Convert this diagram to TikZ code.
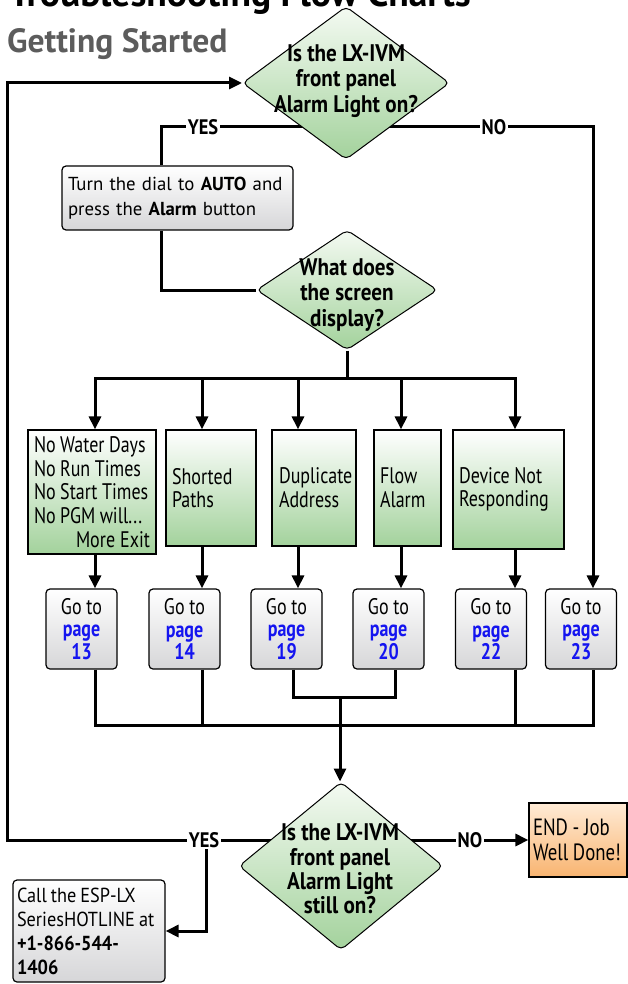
\documentclass[tikz,border=0pt]{standalone}
\usepackage{fontspec}
\setmainfont{PT Sans}
\newfontfamily\condf[FakeStretch=0.8]{PT Sans}
\newfontfamily\dfont[FakeStretch=0.88]{PT Sans}
\newfontfamily\semif[FakeStretch=0.9]{PT Sans}
\newcommand\tightsp{\spaceskip=0.2em plus 0.05em minus 0.03em\relax}
\usetikzlibrary{shapes.geometric,arrows.meta,backgrounds}
\definecolor{grn}{HTML}{A3D29C}
\definecolor{grnlt}{HTML}{F4FAF2}
\definecolor{gry}{HTML}{D6D6D8}
\definecolor{orn}{HTML}{F8B470}
\definecolor{ornlt}{HTML}{FFEBD6}
\definecolor{pgblue}{HTML}{1414F0}
\definecolor{ttlgray}{HTML}{5C5C5C}
\newcommand\gopage[1]{Go to\\{\color{pgblue}\bfseries page}\\{\color{pgblue}\bfseries #1}}
\tikzset{
 conn/.style={line width=3pt, line join=miter},
 arr/.style={conn, -{Triangle[length=13pt,width=12pt]}},
 dia/.style={diamond, draw, line width=1pt, rounded corners=5pt, top color=grnlt, bottom color=grn, inner sep=0pt},
 dtxt/.style={font=\dfont\bfseries\fontsize{24}{25.5}\selectfont, align=center, inner sep=0pt},
 gbox/.style={rectangle, draw, line width=1.2pt, top color=white, bottom color=grn, inner ysep=0pt, align=flush left, font=\condf\fontsize{22.5}{23.7}\selectfont\tightsp},
 rbox/.style={rectangle, draw, line width=1.2pt, rounded corners=4pt, top color=white, bottom color=gry, inner ysep=0pt},
 gobox/.style={rbox, minimum width=71pt, minimum height=80pt, align=center, font=\condf\fontsize{22.5}{22.5}\selectfont},
 lbl/.style={fill=white, inner sep=1.5pt, font=\dfont\bfseries\fontsize{21}{22}\selectfont},
}
\begin{document}
\begin{tikzpicture}[x=1pt,y=-1pt]
\useasboundingbox (0,0) rectangle (628,984);
\node[anchor=base west, font=\bfseries\fontsize{37.6}{38}\selectfont, inner sep=0pt] (title) at (9,7) {Troubleshooting Flow Charts};
\node[anchor=base west, font=\bfseries\fontsize{33.6}{34}\selectfont, text=ttlgray, inner sep=0pt] (sub) at (7,53) {Getting Started};

\node[dia, minimum width=207pt, minimum height=153pt] (d1) at (346,83) {};
\node[dtxt] (t1) at (346,81) {Is the LX-IVM\\front panel\\Alarm Light on?};
\node[rbox, minimum width=231pt, minimum height=64pt, text width=219pt, inner xsep=6pt, align=left, font=\fontsize{18.8}{25}\selectfont] (turn) at (177.5,198) {Turn the dial to \textbf{AUTO} and\\press the \textbf{Alarm} button};
\node[dia, minimum width=181pt, minimum height=120pt] (d2) at (347,290) {};
\node[dtxt] (t2) at (347,295) {What does\\the screen\\display?};

\node[gbox, minimum width=128pt, minimum height=124pt, text width=116pt, inner xsep=6pt] (b1) at (92,492) {No Water Days\\No Run Times\\No Start Times\\No PGM will...\\\hfill More\hspace{5pt}Exit\hspace*{6pt}};
\node[gbox, minimum width=90pt, minimum height=116pt, text width=78pt, inner xsep=6pt] (b2) at (211,488) {Shorted\\Paths};
\node[gbox, minimum width=84pt, minimum height=116pt, text width=70pt, inner xsep=7pt] (b3) at (314,488) {Duplicate\\Address};
\node[gbox, minimum width=67pt, minimum height=116pt, text width=55pt, inner xsep=6pt] (b4) at (407.5,488) {Flow\\Alarm};
\node[gbox, minimum width=111pt, minimum height=119pt, text width=99pt, inner xsep=6pt] (b5) at (508.5,489.5) {Device Not\\Responding};

\node[gobox] (g13) at (81.5,629) {\gopage{13}};
\node[gobox] (g14) at (184.5,629) {\gopage{14}};
\node[gobox] (g19) at (286.5,629) {\gopage{19}};
\node[gobox] (g20) at (388.5,629) {\gopage{20}};
\node[gobox] (g22) at (491,629) {\gopage{22}};
\node[gobox] (g23) at (581,629) {\gopage{23}};

\node[dia, minimum width=204pt, minimum height=168pt] (d3) at (341,866) {};
\node[dtxt, font=\dfont\bfseries\fontsize{24}{24.3}\selectfont] (t3) at (340,869) {Is the LX-IVM\\front panel\\Alarm Light\\still on?};

\node[lbl] (yes1) at (203,127) {YES};
\node[lbl] (no1) at (494,127) {NO};
\node[lbl] (yes2) at (204,840) {YES};
\node[lbl] (no2) at (470,840) {NO};

\node[rectangle, draw, line width=1.2pt, top color=ornlt, bottom color=orn, minimum width=98pt, minimum height=74pt, text width=90pt, inner xsep=4pt, inner ysep=0pt, align=flush left, font=\condf\fontsize{23.5}{25}\selectfont\tightsp] (endb) at (578,840) {END - Job\\Well Done!};
\node[rbox, minimum width=152pt, minimum height=102pt, text width=144pt, inner xsep=4pt, align=flush left, font=\semif\fontsize{20.3}{24}\selectfont\tightsp] (call) at (89,931) {Call the ESP-LX\\SeriesHOTLINE at\\\textbf{+1-866-544-}\\\textbf{1406}};

\coordinate (xa) at (161,0);
\coordinate (xL) at (7,0);
\coordinate (c1) at (95,0);
\coordinate (c2) at (202,0);
\coordinate (c3) at (298,0);
\coordinate (c4) at (401,0);
\coordinate (c5) at (515,0);
\coordinate (c6) at (593,0);
\coordinate (e3) at (293,0);
\coordinate (e4) at (395,0);
\coordinate (cy) at (206,0);
\coordinate (bus1) at (0,378);
\coordinate (bus2) at (0,725);
\coordinate (j) at (340,697);

\begin{pgfonlayer}{background}
\draw[arr] (turn.north -| xa) |- (yes1) -- (no1) -| (g23.north -| c6);
\draw[conn] (turn.south -| xa) |- (d2.west);
\draw[conn] (d2.south) -- (d2.south |- bus1);
\draw[conn, line cap=rect] (c1 |- bus1) -- (c5 |- bus1);
\foreach \b/\c in {b1/c1,b2/c2,b3/c3,b4/c4,b5/c5}
  \draw[arr] (\c |- bus1) -- (\b.north -| \c);
\foreach \b/\g/\c in {b1/g13/c1,b2/g14/c2,b3/g19/c3,b4/g20/c4,b5/g22/c5}
  \draw[arr] (\b.south -| \c) -- (\g.north -| \c);
\draw[conn] (g13.south -| c1) |- (bus2 -| c6) -- (g23.south -| c6);
\draw[conn] (g14.south -| c2) -- (c2 |- bus2);
\draw[conn] (g22.south -| c5) -- (c5 |- bus2);
\draw[conn] (g19.south -| e3) |- (j) -| (g20.south -| e4);
\draw[arr] (j) -- (j |- d3.north);
\draw[arr] (d3.center |- yes2) -- (xL |- yes2) |- (d1.west);
\draw[arr] (cy |- yes2) |- (call.east);
\draw[conn] (d3.center |- no2) -- (no2);
\draw[arr] (no2) -- (endb.west |- no2);
\end{pgfonlayer}
\end{tikzpicture}
\end{document}
